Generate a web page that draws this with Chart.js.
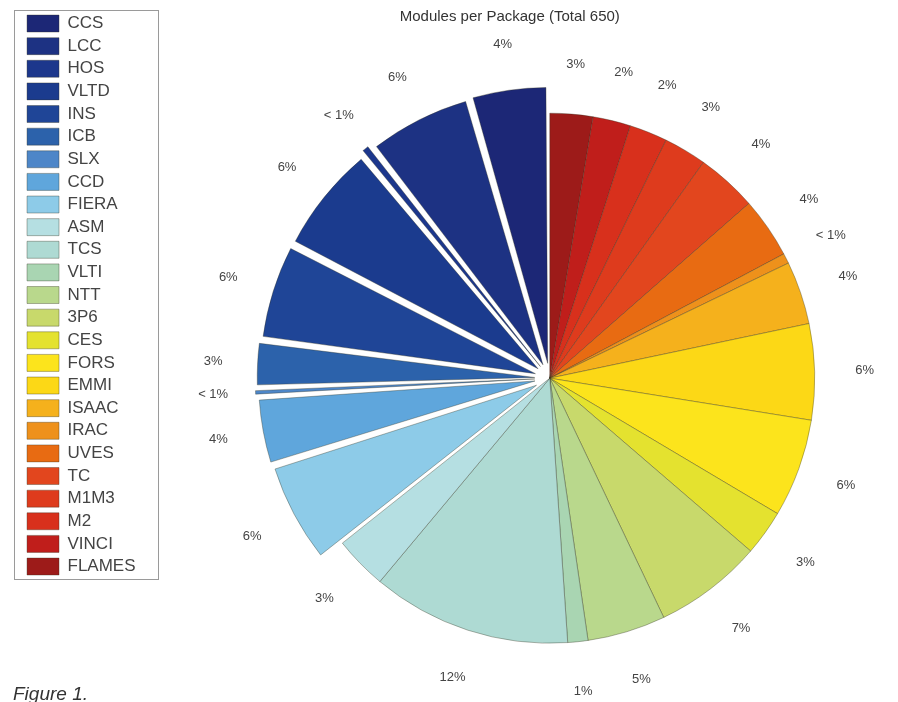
<!DOCTYPE html>
<html>
<head>
<meta charset="utf-8">
<script src="https://cdn.jsdelivr.net/npm/chart.js@4/dist/chart.umd.min.js"></script>
<style>
  html, body { margin: 0; padding: 0; background: #fff; overflow: hidden; }
  #wrap { position: relative; width: 898px; height: 702px; overflow: hidden; }
  #caption { position: absolute; left: 13px; top: 683px; font: italic 19px "Liberation Sans", Arial, sans-serif; color: #333; }
</style>
</head>
<body>
<div id="wrap">
  <!-- canvas is a bit larger than the window so the pie sits where it does in the figure -->
  <canvas id="pie" width="954" height="747"></canvas>
  <div id="caption">Figure 1.</div>
</div>
<script>
// packages in legend order (top to bottom)
const packages = ['CCS', 'LCC', 'HOS', 'VLTD', 'INS', 'ICB', 'SLX', 'CCD', 'FIERA', 'ASM', 'TCS', 'VLTI', 'NTT',
    '3P6', 'CES', 'FORS', 'EMMI', 'ISAAC', 'IRAC', 'UVES', 'TC', 'M1M3', 'M2', 'VINCI', 'FLAMES'];
// number of modules per package (total 650)
const modules = [29, 39, 4, 41, 36, 17, 3, 25, 38, 21, 79, 8, 31,
    43, 18, 39, 38, 25, 4, 24, 24, 17, 15, 15, 17];

const chartTitle = 'Modules per Package (Total 650)';

const colors = ['#1c2776', '#1d3283', '#1c378c', '#1b3b8e', '#1f4597', '#2c62ab', '#4d86c8', '#5fa6dc', '#8dcbe8',
    '#b5dfe2', '#aedad3', '#a9d5b2', '#b9d88c', '#c8d96b', '#e4e22f', '#fce41c', '#fcd816', '#f5b11c', '#ee911b',
    '#e86b12', '#e2461e', '#de3b1d', '#d8301c', '#c01e1b', '#9d1b19'];
// exploded slices (the blue ones)
const explode = [60, 60, 60, 60, 60, 60, 60, 60, 60, 0, 0, 0, 0, 0, 0, 0, 0, 0, 0, 0, 0, 0, 0, 0, 0];

let total = modules.reduce((a, b) => a + b, 0);

// pie runs clockwise from 12 o'clock starting with FLAMES, so reverse
let labels = packages.slice().reverse();
let values = modules.slice().reverse();
let cols = colors.slice().reverse();
let offs = explode.slice().reverse();

let pctText = v => {
    let p = v / total * 100;
    return p < 1 ? '< 1%' : Math.round(p) + '%';
}

const FONT = '"Liberation Sans", Arial, sans-serif';

// percentage labels outside the slices
const pctLabels = {
    id: 'pctLabels',
    afterDatasetsDraw(chart) {
        let ctx = chart.ctx;
        let meta = chart.getDatasetMeta(0);
        ctx.save();
        ctx.font = '13px ' + FONT;
        ctx.fillStyle = '#444';
        ctx.textAlign = 'center';
        ctx.textBaseline = 'middle';
        meta.data.forEach((arc, i) => {
            let mid = (arc.startAngle + arc.endAngle) / 2;
            let r = arc.outerRadius + 50 + (offs[i] ? 22 : 0);
            ctx.fillText(pctText(values[i]), arc.x + Math.cos(mid) * r, arc.y + Math.sin(mid) * r);
        });
        ctx.restore();
    }
}

// box round the legend + the title (sits a little left of the pie centre)
const decorations = {
    id: 'decorations',
    afterDraw(chart) {
        let ctx = chart.ctx;
        ctx.save();
        let hits = chart.legend.legendHitBoxes;
        if (hits && hits.length) {
            let first = hits[0], last = hits[hits.length - 1];
            ctx.strokeStyle = '#9a9a9a';
            ctx.lineWidth = 1;
            ctx.strokeRect(Math.round(first.left - 13) + 0.5, Math.round(first.top - 5) + 0.5, 144, last.top + last.height - first.top + 9);
        }
        let area = chart.chartArea;
        ctx.font = '15px ' + FONT;
        ctx.fillStyle = '#333';
        ctx.textAlign = 'center';
        ctx.textBaseline = 'middle';
        ctx.fillText(chartTitle, (area.left + area.right) / 2 - 40, 17);
        ctx.restore();
    }
}

new Chart(document.getElementById('pie').getContext('2d'), {
    type: 'pie',
    data: {
        labels: labels,
        datasets: [{
            data: values,
            backgroundColor: cols,
            borderColor: 'rgba(50,50,30,0.45)',
            borderWidth: 0.8,
            offset: offs
        }]
    },
    options: {
        responsive: false,
        animation: false,
        events: [],
        radius: 265,
        layout: { padding: { left: 21.4, top: 9.4, right: 0, bottom: 0 } },
        plugins: {
            legend: {
                position: 'left',
                align: 'start',
                reverse: true,
                labels: {
                    boxWidth: 32,
                    boxHeight: 17,
                    padding: 5.625,
                    color: '#444',
                    font: { family: FONT, size: 17 }
                }
            },
            title: { display: false },
            tooltip: { enabled: false }
        }
    },
    plugins: [pctLabels, decorations]
});
</script>
</body>
</html>
